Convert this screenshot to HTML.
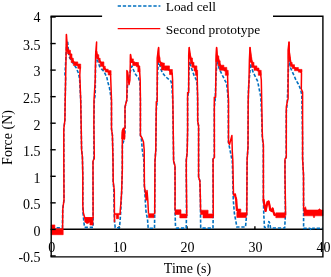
<!DOCTYPE html>
<html><head><meta charset="utf-8"><style>
html,body{margin:0;padding:0;background:#fff;}
svg{display:block;will-change:transform;}
text{font-family:"Liberation Serif",serif;font-size:14px;fill:#000;}
</style></head><body>
<svg width="331" height="277" viewBox="0 0 331 277">
<rect width="331" height="277" fill="#fff"/>
<g stroke="#000" stroke-width="1.4" fill="none">
<line x1="51.2" y1="229.3" x2="322.9" y2="229.3"/>
<line x1="119.10" y1="226.2" x2="119.10" y2="229.4"/><line x1="187.00" y1="226.2" x2="187.00" y2="229.4"/><line x1="254.90" y1="226.2" x2="254.90" y2="229.4"/>
</g>
<polyline points="51.5,227.7 62.4,227.7 62.7,209.0 64.0,200.0 63.8,157.0 63.8,129.0 64.9,120.0 65.2,100.0 65.6,78.0 64.9,74.0 65.2,70.0 65.8,60.0 66.6,45.0 67.6,40.9 68.2,48.0 69.1,56.8 72.7,62.6 76.3,68.0 78.6,73.6 79.6,79.0 80.7,100.0 81.6,150.0 82.4,157.0 82.8,175.0 82.8,205.0 83.0,213.0 84.0,223.0 84.5,227.4 93.1,227.4 93.1,218.0 93.0,175.0 93.0,161.0 93.9,158.4 93.9,125.0 94.3,100.0 95.2,95.0 95.5,70.0 95.8,60.0 96.2,56.1 98.1,61.9 99.5,66.3 101.7,69.2 103.9,71.3 105.3,74.2 106.8,77.1 107.8,82.0 109.5,88.0 111.4,100.0 111.5,129.0 112.4,135.0 113.0,160.0 113.2,181.7 113.8,190.0 114.2,214.0 114.6,222.0 115.2,227.7 119.5,227.7 120.3,218.0 120.8,210.4 121.6,192.7 122.3,170.0 122.4,145.0 124.0,140.0 125.1,130.0 125.1,107.0 126.8,100.0 127.5,85.0 128.3,82.8 129.8,73.4 131.2,68.3 132.0,66.1 133.4,69.7 134.9,73.4 137.0,76.3 138.5,77.7 139.9,82.8 140.1,87.0 140.4,100.0 140.4,135.3 141.5,140.0 142.3,150.0 143.8,160.0 144.4,186.0 145.2,199.0 146.0,211.7 147.5,219.0 148.2,228.3 154.5,228.3 154.7,214.0 154.9,175.0 155.0,161.0 155.8,150.0 156.3,110.0 157.0,103.0 157.5,75.0 158.6,59.4 159.3,63.7 160.8,68.8 162.2,72.4 164.4,75.3 166.6,77.5 168.8,79.4 170.9,81.1 171.7,83.8 172.7,100.0 173.2,130.0 173.6,161.0 175.0,166.0 175.1,190.0 175.1,213.3 175.5,226.6 176.4,228.1 186.2,228.1 186.5,215.0 186.3,175.0 186.3,160.0 187.2,152.0 187.6,130.0 187.6,98.0 188.5,92.0 188.8,75.0 189.6,61.6 191.1,67.3 192.5,71.0 194.0,75.3 195.4,78.2 196.9,81.1 197.5,95.0 197.7,121.0 198.6,126.0 198.6,177.0 199.9,181.0 200.4,200.0 200.5,214.5 200.7,227.7 201.0,228.1 213.0,228.1 213.2,215.0 213.1,175.0 213.1,159.0 214.3,157.5 214.3,107.0 215.2,100.0 216.0,75.0 217.1,60.8 218.1,65.2 219.5,69.5 221.0,72.4 222.4,75.3 223.9,78.2 225.3,81.1 226.5,83.0 227.5,92.0 228.3,102.0 228.4,142.0 230.0,150.0 232.3,161.7 232.8,180.0 233.3,200.0 234.4,213.5 236.0,222.0 236.8,227.0 245.5,227.0 246.6,215.0 247.0,175.0 247.1,160.0 248.0,147.0 248.2,110.0 248.4,90.0 249.0,82.0 250.1,70.0 250.6,63.7 251.8,68.0 253.2,72.4 254.7,75.3 256.1,78.2 257.6,81.1 259.0,88.0 260.8,97.0 261.8,120.0 262.3,137.7 263.3,146.0 263.4,199.0 263.8,215.0 264.5,227.5 268.0,227.5 268.8,221.5 270.0,223.7 270.5,228.0 284.7,228.0 285.4,215.0 285.0,175.0 285.0,159.0 286.2,157.5 286.3,112.0 287.3,102.0 288.4,70.0 289.1,59.7 289.8,64.1 290.5,67.7 292.0,71.3 293.4,74.2 294.4,76.4 296.1,80.4 298.3,84.0 300.5,89.0 301.8,95.0 302.6,140.0 302.6,158.4 303.5,175.0 303.6,228.4 310.0,228.4 311.3,230.3 312.5,228.4 322.7,228.4" fill="none" stroke="#0070C0" stroke-width="1.6" stroke-dasharray="3.3,1.8" stroke-linejoin="round"/>
<g fill="#FF0000" stroke="#FF0000" stroke-width="0.6" stroke-linejoin="round"><polygon points="66.3,34.3 66.6,34.3 67.2,40.9 67.6,47.4 69.1,50.3 67.6,52.0 66.3,51.0"/><polygon points="67.6,50.3 70.5,50.3 70.5,53.9 67.6,53.9"/><polygon points="69.8,53.9 72.0,53.9 72.0,59.0 69.8,59.0"/><polygon points="71.2,58.3 73.4,58.3 73.4,62.6 71.2,62.6"/><polygon points="73.4,61.9 77.8,61.9 77.8,65.5 73.4,65.5"/><polygon points="77.8,64.0 80.7,64.0 80.7,68.4 77.8,68.4"/><polygon points="95.5,51.0 96.8,51.0 96.9,54.7 95.5,54.0"/><polygon points="96.6,54.7 98.8,54.7 98.8,59.0 96.6,59.0"/><polygon points="98.8,58.3 100.2,58.3 100.2,62.6 98.8,62.6"/><polygon points="100.2,61.9 103.9,61.9 103.9,66.3 100.2,66.3"/><polygon points="103.1,66.3 105.3,66.3 105.3,69.9 103.1,69.9"/><polygon points="105.3,69.2 108.2,69.2 108.2,72.0 105.3,72.0"/><polygon points="108.2,70.6 111.1,70.6 111.1,75.0 108.2,75.0"/><polygon points="130.3,54.5 130.8,54.5 131.5,58.9 132.0,62.5 130.3,62.5"/><polygon points="131.2,58.9 133.4,58.9 133.4,62.5 131.2,62.5"/><polygon points="132.7,61.8 134.9,61.8 134.9,65.5 132.7,65.5"/><polygon points="134.9,62.5 137.0,62.5 137.0,65.5 134.9,65.5"/><polygon points="136.3,62.5 138.5,62.5 138.5,66.8 136.3,66.8"/><polygon points="137.8,66.1 139.9,66.1 139.9,71.9 137.8,71.9"/><polygon points="158.4,47.5 158.8,47.5 159.1,55.0 160.1,58.0 160.1,62.3 157.9,62.3 157.9,52.0"/><polygon points="160.1,62.3 162.2,62.3 162.2,66.0 160.1,66.0"/><polygon points="161.5,63.0 164.4,63.0 164.4,70.0 161.5,70.0"/><polygon points="164.4,65.9 169.5,65.9 169.5,70.3 164.4,70.3"/><polygon points="169.5,69.5 172.4,69.5 172.4,74.6 169.5,74.6"/><polygon points="189.0,47.5 189.4,47.5 189.6,50.7 190.3,55.0 191.1,58.7 190.3,60.0 189.0,58.0"/><polygon points="190.3,58.0 192.5,58.0 192.5,63.7 190.3,63.7"/><polygon points="191.8,62.3 194.0,62.3 194.0,67.3 191.8,67.3"/><polygon points="194.0,65.9 196.9,65.9 196.9,71.0 194.0,71.0"/><polygon points="195.4,70.2 197.6,70.2 197.6,75.3 195.4,75.3"/><polygon points="216.4,47.5 216.9,47.5 217.3,55.0 218.8,56.0 218.8,61.6 215.8,61.6 215.9,55.0"/><polygon points="218.1,60.8 220.2,60.8 220.2,65.9 218.1,65.9"/><polygon points="219.5,65.2 223.9,65.2 223.9,70.3 219.5,70.3"/><polygon points="223.9,67.4 226.8,67.4 226.8,71.0 223.9,71.0"/><polygon points="225.3,70.3 228.2,70.3 228.2,75.3 225.3,75.3"/><polygon points="249.8,47.5 250.3,47.5 251.5,56.5 252.5,62.3 249.6,62.3"/><polygon points="251.8,62.3 254.0,62.3 254.0,67.4 251.8,67.4"/><polygon points="254.0,65.9 256.9,65.9 256.9,70.3 254.0,70.3"/><polygon points="256.9,68.0 259.0,68.0 259.0,71.0 256.9,71.0"/><polygon points="258.3,70.3 261.2,70.3 261.2,75.3 258.3,75.3"/><polygon points="288.8,42.1 289.3,42.1 289.5,52.5 290.3,58.3 290.3,62.5 288.3,58.3"/><polygon points="290.3,62.5 292.2,62.5 292.2,66.4 290.3,66.4"/><polygon points="292.2,64.7 294.5,64.7 294.5,68.6 292.2,68.6"/><polygon points="294.5,67.5 298.4,67.5 298.4,70.7 294.5,70.7"/><polygon points="298.4,69.4 302.0,69.4 302.0,72.2 298.4,72.2"/><polygon points="51.2,224.9 54.9,224.9 54.9,228.8 63.2,228.8 63.2,234.7 51.2,234.7"/><polygon points="84.5,217.5 93.1,217.5 93.1,225.0 89.9,225.0 89.9,221.9 87.9,223.5 86.7,223.5 84.8,221.9"/><polygon points="114.5,213.4 119.8,213.4 119.8,214.7 118.7,214.7 118.7,218.7 116.3,218.7 116.3,214.7 114.5,214.7"/><polygon points="148.5,213.7 154.0,213.7 154.0,217.7 148.5,217.7"/><polygon points="175.0,209.8 181.0,209.8 181.0,213.9 186.8,213.9 186.8,217.9 179.8,217.9 179.8,214.5 175.0,214.5"/><polygon points="200.6,210.2 208.1,210.2 208.1,213.9 213.3,213.9 213.3,217.9 203.0,217.9 203.0,214.5 200.6,214.5"/><polygon points="236.8,212.7 237.6,209.0 240.8,209.0 240.8,212.7 246.3,212.7 246.3,217.5 236.8,217.5"/><polygon points="275.8,212.8 285.3,212.8 285.3,217.7 275.8,217.7"/><polygon points="303.6,208.7 305.5,206.7 306.5,210.0 318.0,210.0 319.5,208.8 321.0,210.0 322.9,210.0 322.9,215.8 315.0,215.8 314.0,218.0 313.0,215.8 304.0,215.8"/></g>
<g fill="none" stroke="#FF0000" stroke-width="1.5" stroke-linejoin="round"><polyline points="62.6,229.0 62.8,209.0 64.0,200.0 63.8,157.0 63.8,129.0 64.9,120.0 65.2,100.0 65.7,75.0 66.2,48.0 66.4,34.4 66.6,43.0 67.2,48.0 68.5,51.5 68.5,53.0 70.5,55.0 72.3,60.0 75.0,63.5 79.5,66.0 80.2,68.0 79.8,75.0 80.7,100.0 81.6,150.0 82.4,157.0 82.8,175.0 82.8,205.0 83.4,213.0 84.8,218.0 93.1,218.0"/><polyline points="93.1,218.0 93.0,175.0 93.0,161.0 94.3,158.4 93.9,125.0 94.0,100.0 95.2,80.0 95.6,55.0 96.1,48.0 96.6,42.1 96.4,51.0 97.5,56.5 99.5,60.5 102.0,64.0 104.2,68.0 106.7,70.6 109.6,72.8 110.6,75.0 111.5,100.0 111.5,129.0 112.4,135.0 113.0,160.0 113.2,181.7 114.3,190.0 114.5,222.3"/><polyline points="120.1,214.7 120.3,209.6 120.8,204.0 121.6,192.7 122.3,170.0 122.3,141.0 122.5,132.0 124.0,129.0 125.0,128.0 125.0,107.0 126.8,100.0 127.0,85.0 126.9,70.5 127.7,72.0 129.0,84.6 129.9,80.0 130.5,54.5 131.0,60.0 133.6,63.0 136.5,64.0 138.6,65.5 139.5,69.0 140.2,80.0 140.4,100.0 140.4,135.3 142.0,138.0 143.5,142.0 144.2,150.0 144.4,186.0 145.5,193.0 146.2,200.0 147.0,190.5 147.8,200.0 148.5,213.7"/><polyline points="154.7,214.0 154.9,175.0 155.0,161.0 155.8,150.0 156.3,101.7 157.2,101.7 157.2,58.0 158.6,47.5 158.8,56.0 159.5,60.5 161.2,64.0 163.0,66.5 167.0,68.0 171.0,72.0 172.2,73.5 172.6,80.0 173.0,110.0 173.6,161.0 175.0,166.0 175.1,190.0 175.0,209.8"/><polyline points="186.8,215.9 186.3,175.0 186.3,160.0 187.2,152.0 187.6,130.0 187.6,92.6 188.7,92.6 188.7,55.0 189.2,47.5 190.0,54.0 191.4,60.8 193.0,64.8 195.5,68.5 196.6,72.7 197.2,76.0 197.7,100.0 197.7,121.0 198.6,126.0 198.6,177.0 199.9,181.0 200.4,200.0 200.6,210.2"/><polyline points="213.3,215.9 213.1,175.0 213.1,159.0 214.4,157.5 214.3,97.2 215.6,97.2 216.1,60.0 216.6,47.5 217.2,56.0 218.5,59.0 219.5,63.3 221.7,67.8 225.3,69.2 227.5,72.8 227.9,88.0 228.5,100.0 228.5,142.2 229.5,144.5 231.9,135.4 232.3,151.8 232.8,160.0 233.5,195.0 235.0,194.4 235.5,197.0 236.2,199.4 236.5,205.0 237.0,211.0"/><polyline points="246.8,215.0 247.0,175.0 247.1,160.0 248.0,147.0 248.2,100.0 249.0,80.0 249.4,60.0 250.0,47.5 250.8,58.0 252.5,64.8 255.4,68.1 258.0,69.5 260.5,72.8 261.3,80.0 261.7,100.0 262.2,130.0 262.5,138.0 263.4,144.5 263.4,199.0 264.6,206.0 265.6,211.0 266.6,206.0 267.5,202.0 268.6,201.5 269.4,205.0 270.2,210.0 271.5,211.0 272.6,208.5 273.5,212.0 274.5,215.0 276.0,214.5"/><polyline points="285.6,215.5 285.0,175.0 285.0,159.0 286.3,157.5 286.3,107.0 287.6,100.0 288.1,99.0 288.1,50.0 289.0,42.1 289.3,52.0 290.0,58.0 291.2,64.5 293.3,66.6 296.4,69.1 300.2,70.8 301.5,73.0 301.3,89.0 302.6,92.0 302.6,158.4 303.5,175.0 303.6,208.7"/></g>
<g fill="none" stroke="#FF0000" stroke-width="2.2" stroke-linejoin="round"><polyline points="263.4,199.0 264.6,206.0 265.6,211.0 266.6,206.0 267.5,202.0 268.6,201.5 269.4,205.0 270.2,210.0 271.5,211.0 272.6,208.5 273.5,212.0 274.5,215.0 276.0,214.5"/><polyline points="233.5,195.0 235.0,194.4 235.5,197.0 236.2,199.4 236.5,205.0 237.0,211.0"/><polyline points="122.4,139.0 122.7,131.0 123.6,128.6 124.3,133.0 124.2,138.5 123.3,139.5"/></g>
<g stroke="#000" stroke-width="1.4" fill="none" stroke-linecap="square">
<polyline points="101.4,16.2 51.2,16.2 51.2,256.9 322.9,256.9 322.9,16.2 273.7,16.2"/>
<line x1="51.2" y1="255.95" x2="55" y2="255.95"/><line x1="51.2" y1="229.40" x2="55" y2="229.40"/><line x1="51.2" y1="202.85" x2="55" y2="202.85"/><line x1="51.2" y1="176.30" x2="55" y2="176.30"/><line x1="51.2" y1="149.75" x2="55" y2="149.75"/><line x1="51.2" y1="123.20" x2="55" y2="123.20"/><line x1="51.2" y1="96.65" x2="55" y2="96.65"/><line x1="51.2" y1="70.10" x2="55" y2="70.10"/><line x1="51.2" y1="43.55" x2="55" y2="43.55"/><line x1="51.2" y1="17.00" x2="55" y2="17.00"/>
</g>
<line x1="117.7" y1="6" x2="160.4" y2="6" stroke="#0070C0" stroke-width="1.5" stroke-dasharray="3.3,1.8"/>
<line x1="117.7" y1="28.6" x2="160.3" y2="28.6" stroke="#FF0000" stroke-width="1.4"/>
<text x="165.7" y="11.4" style="font-size:13.45px">Load cell</text>
<text x="165.7" y="34.2" style="font-size:13.45px">Second prototype</text>
<text x="40.6" y="262.25" text-anchor="end">-0.5</text><text x="40.6" y="235.70" text-anchor="end">0</text><text x="40.6" y="209.15" text-anchor="end">0.5</text><text x="40.6" y="182.60" text-anchor="end">1</text><text x="40.6" y="156.05" text-anchor="end">1.5</text><text x="40.6" y="129.50" text-anchor="end">2</text><text x="40.6" y="102.95" text-anchor="end">2.5</text><text x="40.6" y="76.40" text-anchor="end">3</text><text x="40.6" y="49.85" text-anchor="end">3.5</text><text x="40.6" y="21.90" text-anchor="end">4</text>
<text x="51.80" y="251.5" text-anchor="middle">0</text><text x="119.70" y="251.5" text-anchor="middle">10</text><text x="187.60" y="251.5" text-anchor="middle">20</text><text x="255.50" y="251.5" text-anchor="middle">30</text><text x="323.40" y="251.5" text-anchor="middle">40</text>
<text x="187.5" y="272.8" text-anchor="middle">Time (s)</text>
<text transform="translate(11.9,137.5) rotate(-90)" text-anchor="middle">Force (N)</text>
</svg>
</body></html>
